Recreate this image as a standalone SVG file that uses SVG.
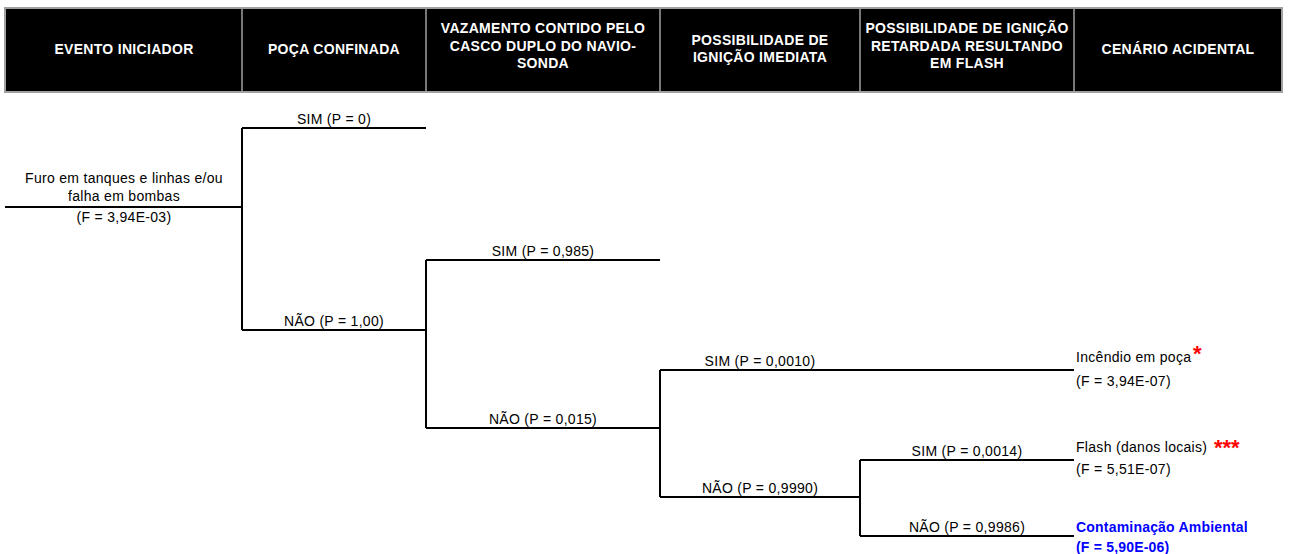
<svg xmlns="http://www.w3.org/2000/svg" width="1289" height="554" viewBox="0 0 1289 554">
<style>
.hd{font-family:"Liberation Sans",Arial,sans-serif;font-weight:bold;font-size:14px;fill:#fff;text-anchor:middle;letter-spacing:0.3px}
.t{font-family:"Liberation Sans",Arial,sans-serif;font-size:14px;fill:#000;letter-spacing:0.3px}
.c{text-anchor:middle}
.ln{stroke:#000;stroke-width:2;fill:none}
.star{font-family:"Liberation Sans",Arial,sans-serif;font-weight:bold;font-size:22px;fill:#ff0000}
.blue{font-family:"Liberation Sans",Arial,sans-serif;font-weight:bold;font-size:14px;fill:#0000ff;letter-spacing:0.2px}
</style>
<rect width="1289" height="554" fill="#fff"/>
<g id="header">
<rect x="5" y="8" width="1277" height="84" fill="#000" stroke="#a0a0a0" stroke-width="2"/>
<g stroke="#a0a0a0" stroke-width="1.5">
<line x1="242" y1="8" x2="242" y2="92"/>
<line x1="426" y1="8" x2="426" y2="92"/>
<line x1="660" y1="8" x2="660" y2="92"/>
<line x1="860" y1="8" x2="860" y2="92"/>
<line x1="1074" y1="8" x2="1074" y2="92"/>
</g>
<text class="hd" x="124" y="54">EVENTO INICIADOR</text>
<text class="hd" x="334" y="54">POÇA CONFINADA</text>
<text class="hd" x="543" y="33">VAZAMENTO CONTIDO PELO</text>
<text class="hd" x="543" y="51">CASCO DUPLO DO NAVIO-</text>
<text class="hd" x="543" y="68">SONDA</text>
<text class="hd" x="760" y="45">POSSIBILIDADE DE</text>
<text class="hd" x="760" y="62">IGNIÇÃO IMEDIATA</text>
<text class="hd" x="967" y="33">POSSIBILIDADE DE IGNIÇÃO</text>
<text class="hd" x="967" y="51">RETARDADA RESULTANDO</text>
<text class="hd" x="967" y="68">EM FLASH</text>
<text class="hd" x="1178" y="54">CENÁRIO ACIDENTAL</text>
</g>
<g id="connectors" class="ln">
<path class="ln" d="M5,207 H242 M242,128 V330 M242,128 H426 M242,330 H426"/>
<path class="ln" d="M426,330 V428 M426,260 V330 M426,260 H660 M426,428 H660"/>
<path class="ln" d="M660,370 V497 M660,370 H1074 M660,497 H860"/>
<path class="ln" d="M860,460 V536 M860,460 H1074 M860,536 H1074"/>
</g>
<g id="initiating-event">
<text class="t c" x="124" y="183">Furo em tanques e linhas e/ou</text>
<text class="t c" x="124" y="201">falha em bombas</text>
<text class="t c" x="124" y="222">(F = 3,94E-03)</text>
</g>
<g id="branch-labels">
<text class="t c" x="334" y="124">SIM (P = 0)</text>
<text class="t c" x="334" y="326">NÃO (P = 1,00)</text>
<text class="t c" x="543" y="256">SIM (P = 0,985)</text>
<text class="t c" x="543" y="424">NÃO (P = 0,015)</text>
<text class="t c" x="760" y="366">SIM (P = 0,0010)</text>
<text class="t c" x="760" y="493">NÃO (P = 0,9990)</text>
<text class="t c" x="967" y="456">SIM (P = 0,0014)</text>
<text class="t c" x="967" y="532">NÃO (P = 0,9986)</text>
</g>
<g id="outcome-pool-fire">
<text class="t" x="1076" y="362">Incêndio em poça</text>
<text class="star" x="1193" y="361">*</text>
<text class="t" x="1076" y="386">(F = 3,94E-07)</text>
</g>
<g id="outcome-flash">
<text class="t" x="1076" y="452">Flash (danos locais)</text>
<text class="star" x="1214" y="455">***</text>
<text class="t" x="1076" y="474">(F = 5,51E-07)</text>
</g>
<g id="outcome-contamination">
<text class="blue" x="1076" y="532">Contaminação Ambiental</text>
<text class="blue" x="1076" y="552">(F = 5,90E-06)</text>
</g>
</svg>
